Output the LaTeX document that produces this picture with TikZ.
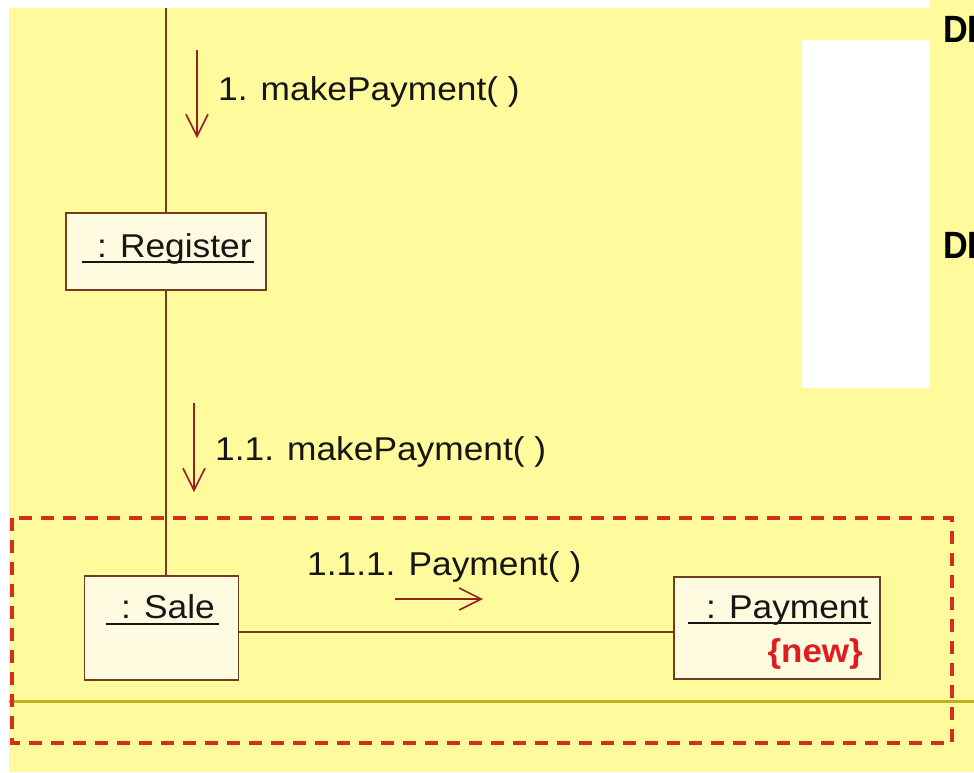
\documentclass[tikz,border=0pt]{standalone}
\usepackage{fontspec}
\setmainfont{Liberation Sans}
\usetikzlibrary{arrows.meta,calc}
\definecolor{pagebg}{RGB}{255,251,157}
\definecolor{boxfill}{RGB}{255,251,224}
\definecolor{boxline}{RGB}{112,62,30}
\definecolor{msgcol}{RGB}{150,32,42}
\definecolor{framered}{RGB}{214,46,28}
\definecolor{olive}{RGB}{196,176,28}
\definecolor{textcol}{RGB}{22,22,22}
\definecolor{newred}{RGB}{222,30,30}
\begin{document}
\begin{tikzpicture}[x=1pt,y=-1pt,
  objbox/.style={draw=boxline,line width=1.8pt,fill=boxfill,inner sep=0pt},
  lifeline/.style={draw=boxline,line width=1.8pt},
  msg/.style={draw=msgcol,line width=1.6pt,-{Straight Barb[length=22pt,width=22pt,line width=1.6pt]}},
  lbl/.style={inner sep=0pt,text=textcol,font=\fontsize{33}{36}\selectfont,xscale=1.07},
  uline/.style={draw=textcol,line width=1.5pt},
  tag/.style={inner sep=0pt,text=newred,font=\fontsize{33}{36}\selectfont\bfseries,xscale=1.06},
  frame/.style={draw=framered,line width=3.6pt,dash pattern=on 13pt off 9pt},
  head/.style={inner sep=0pt,font=\fontsize{38}{40}\selectfont\bfseries,xscale=0.9}]
% canvas and background areas
\useasboundingbox (0,0) rectangle (974,772);
\fill[white] (0,0) rectangle (974,772);
\fill[pagebg] (9,8) rectangle (974,772);
\fill[pagebg] (930,0) rectangle (974,8);
\fill[white] (802,40) rectangle (930,388);
% headings running off the right edge
\begin{scope}
  \clip (0,0) rectangle (974,772);
  \node[head,anchor=base west] (h1) at (943,42) {DE};
  \node[head,anchor=base west] (h2) at (943,258) {DE};
\end{scope}
% objects
\node[objbox,minimum width=200pt,minimum height=77pt] (reg) at (166,251.5) {};
\node[objbox,minimum width=154pt,minimum height=104pt] (sale) at (161.5,628) {};
\node[objbox,minimum width=206pt,minimum height=102pt] (pay) at (777,628) {};
% object names
\node[lbl,anchor=base west] (regt) at (97,257) {: Register};
\node[lbl,anchor=base west] (salet) at (121,618) {: Sale};
\node[lbl,anchor=base west] (payt) at (706,618) {: Payment};
\node[tag,anchor=base east] (newt) at (863,662) {\{new\}};
\draw[uline] ($(regt.base west)+(-15,5)$) -- ($(regt.base east)+(2,5)$);
\draw[uline] ($(salet.base west)+(-15,6)$) -- ($(salet.base east)+(4,6)$);
\draw[uline] ($(payt.base west)+(-18,5)$) -- ($(payt.base east)+(2,5)$);
% links
\coordinate (top) at (166,8);
\draw[lifeline] (top) -- (reg.north);
\draw[lifeline] (reg.south) -- (reg.south |- sale.north);
\draw[lifeline] (sale.east |- 0,632) -- (pay.west |- 0,632);
% messages
\coordinate (m1a) at (197,50);  \coordinate (m1b) at (197,138);
\coordinate (m2a) at (194,403); \coordinate (m2b) at (194,492);
\coordinate (m3a) at (395,599); \coordinate (m3b) at (483,599);
\draw[msg] (m1a) -- (m1b);
\draw[msg] (m2a) -- (m2b);
\draw[msg] (m3a) -- (m3b);
\node[lbl,anchor=base west] (l1) at (218,100) {1. makePayment( )};
\node[lbl,anchor=base west] (l2) at (215,460) {1.1. makePayment( )};
\node[lbl,anchor=base west] (l3) at (307,575) {1.1.1. Payment( )};
% horizontal guide and dashed frame
\coordinate (g1) at (9,701); \coordinate (g2) at (974,701);
\draw[olive,line width=3pt] (g1) -- (g2);
\draw[frame] (12,518) rectangle (952,743);
\end{tikzpicture}
\end{document}
